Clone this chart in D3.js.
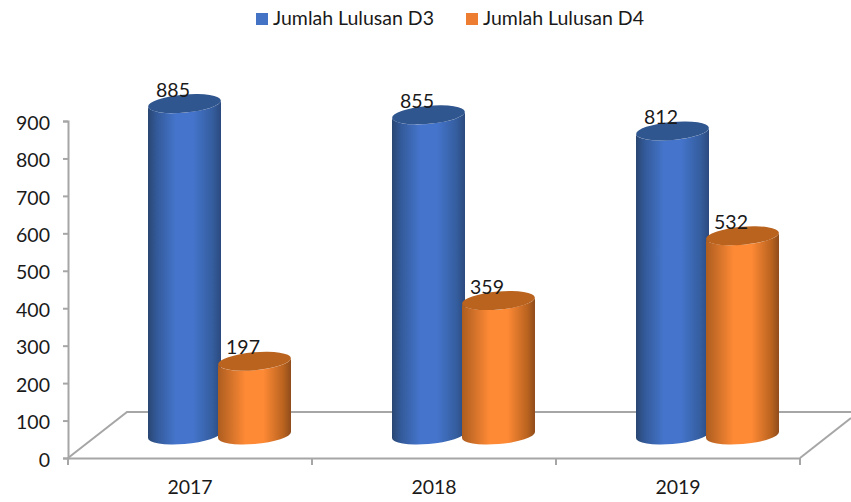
<!DOCTYPE html>
<html><head><meta charset="utf-8">
<script src="https://cdn.jsdelivr.net/npm/d3@7/dist/d3.min.js"></script>
<style>html,body{margin:0;background:#fff}svg{display:block;font-family:Lato,sans-serif}</style>
</head><body><svg id="c" width="851" height="502"></svg>
<script>
const categories = ["2017","2018","2019"];
const seriesNames = ["Jumlah Lulusan D3","Jumlah Lulusan D4"];
const valuesD3 = [885,855,812];
const valuesD4 = [197,359,532];
const yTicks = [0,100,200,300,400,500,600,700,800,900];
const legendColors = ["#4472c4","#ed7d31"];

const svg = d3.select("#c");
const x = d3.scaleBand().domain(categories).range([68,800]);
const y = d3.scaleLinear().domain([0,900]).range([458,121]);
const depthX = 59, depthY = 46;
const floorLift = 23, rx = 36.5, ry = 9, tilt = 5, dy = 3;
const grey = "#a6a6a6", ink = "#1a1a1a", fs = 19.5;

const defs = svg.append("defs");
function grad(id, stops){
  const g = defs.append("linearGradient").attr("id",id);
  stops.forEach(s=>g.append("stop").attr("offset",s[0]).attr("stop-color",s[1]));
}
grad("gBlue",[[0,"#294672"],[.12,"#335a99"],[.38,"#4474cb"],[.62,"#4474cb"],[.88,"#355e9f"],[1,"#2b4a7e"]]);
grad("gOrange",[[0,"#ad5d20"],[.38,"#ff8a35"],[.62,"#ff8a35"],[.9,"#b8621f"],[1,"#8f4c1b"]]);

// floor
const floor = svg.append("g").attr("fill","none").attr("stroke",grey).attr("stroke-width",2);
floor.append("path").attr("d",d3.line()([[68,458],[68+depthX,458-depthY],[851,458-depthY]]));
floor.append("path").attr("d",d3.line()([[800,458],[851,418]]));

// axes
const yAxis = d3.axisLeft(y).tickValues(yTicks).tickSize(5).tickPadding(13);
const gy = svg.append("g").attr("transform","translate(68,0)").call(yAxis);
const xAxis = d3.axisBottom(x).tickSize(0).tickPadding(22);
const gx = svg.append("g").attr("transform","translate(0,458)").call(xAxis);
[gy,gx].forEach(g=>{
  g.selectAll("path.domain").attr("stroke",grey).attr("stroke-width",2);
  g.selectAll("line").attr("stroke",grey).attr("stroke-width",2);
  g.selectAll("text").attr("fill",ink).attr("font-size",fs).attr("font-family","Lato, sans-serif");
});
gy.selectAll("text").attr("dy","0.42em");
svg.append("g").selectAll("line").data(x.domain().concat("end")).join("line")
  .attr("x1",d=>d==="end"?x.range()[1]:x(d)).attr("x2",d=>d==="end"?x.range()[1]:x(d))
  .attr("y1",458).attr("y2",465).attr("stroke",grey).attr("stroke-width",2);

// cylinders
function cyl(parent, cx, v, fill, top){
  const yt = y(v)-floorLift, yb = y(0)-floorLift;
  const g = parent.append("g");
  const arcs = (yy,sweep,from)=>`A${rx},${ry} ${-tilt} 0 ${sweep} ${from==="l"?cx+rx:cx-rx},${from==="l"?yy-dy:yy+dy}`;
  g.append("path").attr("fill",fill)
    .attr("d",`M${cx-rx},${yt+dy} L${cx-rx},${yb+dy} ${arcs(yb,0,"l")} L${cx+rx},${yt-dy} ${arcs(yt,1,"r")}Z`);
  g.append("ellipse").attr("cx",cx).attr("cy",yt).attr("rx",rx).attr("ry",ry)
    .attr("transform",`rotate(${-tilt} ${cx} ${yt})`).attr("fill",top);
  parent.append("text").attr("x",cx-11.5).attr("y",yt-7).attr("text-anchor","middle")
    .attr("font-size",fs).attr("fill",ink).text(v);
}
const bars = svg.append("g");
categories.forEach((c,i)=>{
  const left = x(c)+80;
  cyl(bars,left+36.5,valuesD3[i],"url(#gBlue)","#30568f");
  cyl(bars,left+106.5,valuesD4[i],"url(#gOrange)","#b9631f");
});

// legend
const lx = [256,466];
seriesNames.forEach((n,i)=>{
  svg.append("rect").attr("x",lx[i]).attr("y",13).attr("width",12).attr("height",12).attr("fill",legendColors[i]);
  svg.append("text").attr("x",lx[i]+17).attr("y",25).attr("font-size",fs).attr("fill",ink).text(n);
});
</script></body></html>
